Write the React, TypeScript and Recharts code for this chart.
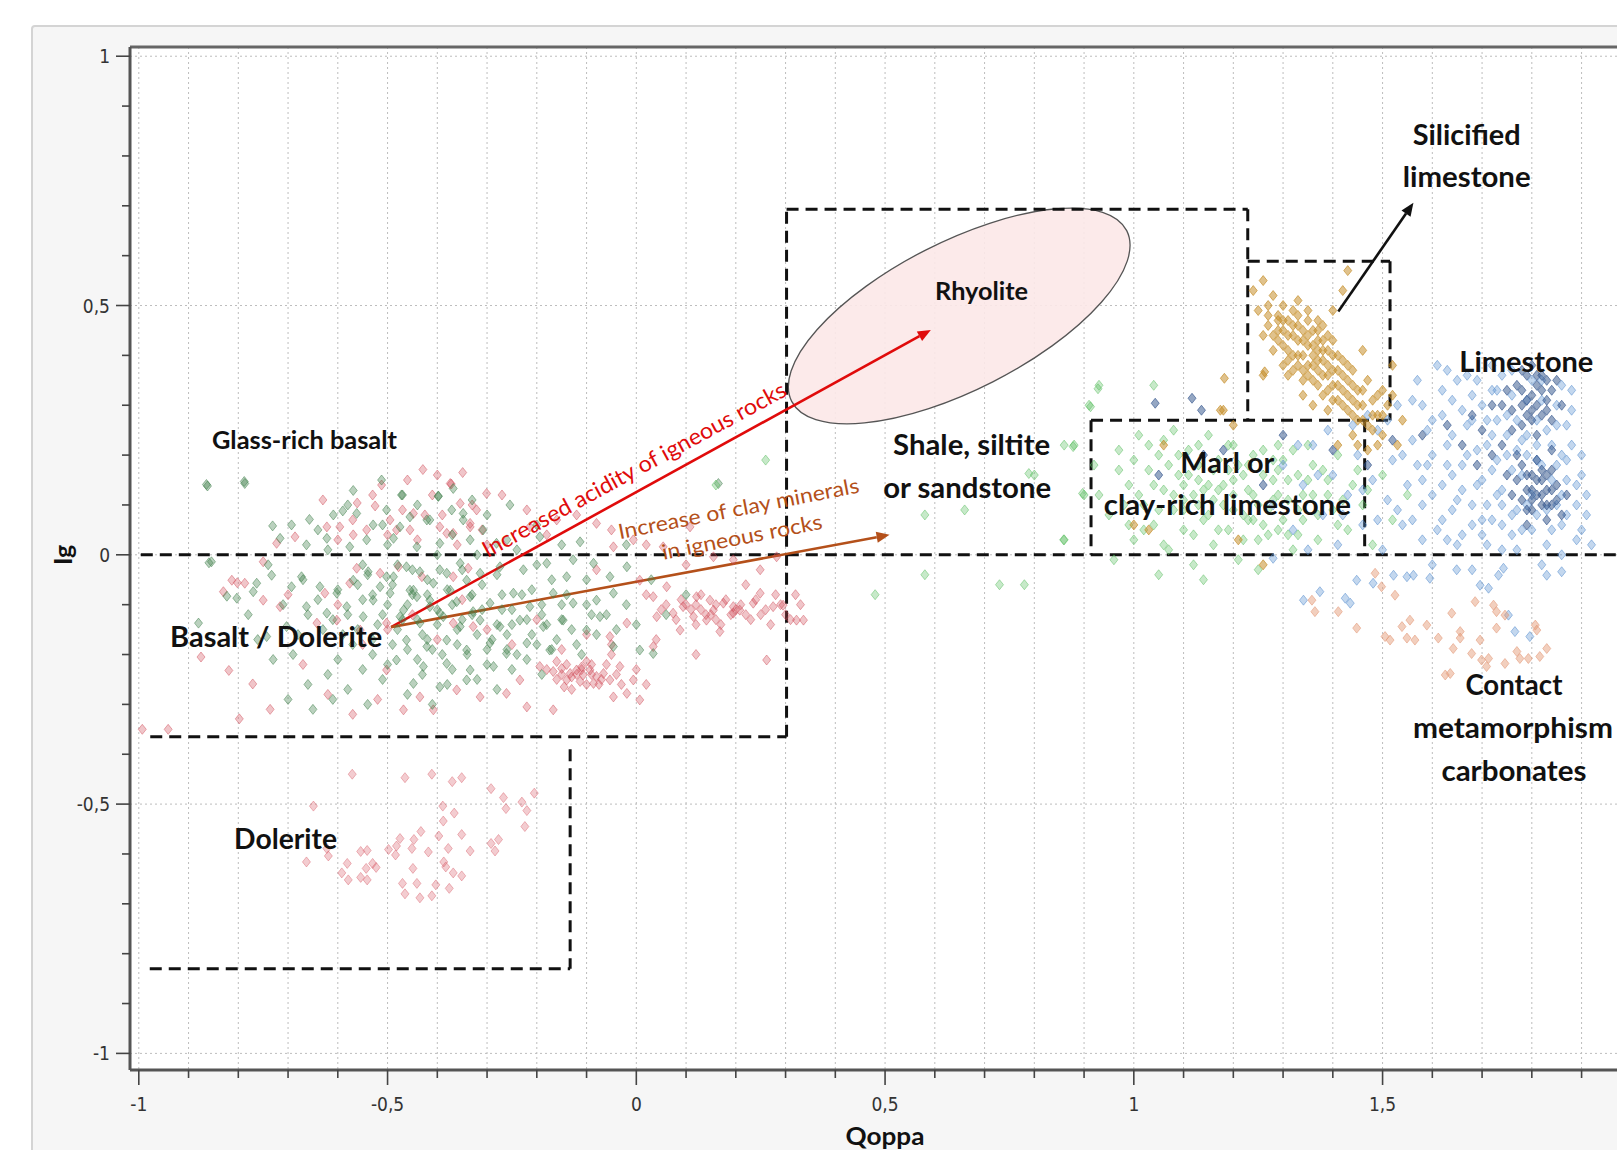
import React from 'react'
import {
  ScatterChart,
  Scatter,
  XAxis,
  YAxis,
  CartesianGrid,
  ReferenceLine,
  ReferenceDot,
  ReferenceArea,
} from 'recharts'

type Pt = [number, number]

// axis ticks (every 0.1, labelled every 0.5)
const xTicks = [-1, -0.9, -0.8, -0.7, -0.6, -0.5, -0.4, -0.3, -0.2, -0.1, 0, 0.1, 0.2, 0.3, 0.4, 0.5, 0.6, 0.7, 0.8, 0.9, 1, 1.1, 1.2, 1.3, 1.4, 1.5, 1.6, 1.7, 1.8, 1.9]
const yTicks = [-1, -0.9, -0.8, -0.7, -0.6, -0.5, -0.4, -0.3, -0.2, -0.1, 0, 0.1, 0.2, 0.3, 0.4, 0.5, 0.6, 0.7, 0.8, 0.9, 1]
const yGridValues = [-1, -0.5, 0, 0.5, 1]

// samples, [Qoppa, Ig]
const basaltGreen: Pt[] = [
  [-0.862, 0.138], [-0.787, 0.143], [-0.859, -0.016], [-0.731, 0.058], [-0.693, 0.06], [-0.657, 0.071], [-0.569, 0.129],
  [-0.512, 0.15], [-0.47, 0.12], [-0.398, 0.118], [-0.368, 0.133], [-0.609, 0.08], [-0.59, 0.088], [-0.562, 0.083],
  [-0.529, 0.06], [-0.502, 0.09], [-0.455, 0.076], [-0.415, 0.07], [-0.348, 0.07], [-0.716, 0.033], [-0.663, 0.02],
  [-0.622, 0.033], [-0.576, 0.016], [-0.542, 0.03], [-0.488, 0.033], [-0.441, 0.016], [-0.395, 0.023], [-0.334, 0.03],
  [-0.763, -0.057], [-0.733, -0.041], [-0.803, -0.087], [-0.77, -0.074], [-0.693, -0.064], [-0.673, -0.044], [-0.636, -0.064],
  [-0.602, -0.077], [-0.569, -0.051], [-0.539, -0.034], [-0.515, -0.064], [-0.488, -0.044], [-0.455, -0.071], [-0.435, -0.034],
  [-0.408, -0.057], [-0.381, -0.037], [-0.341, -0.051], [-0.663, -0.104], [-0.622, -0.117], [-0.582, -0.104], [-0.549, -0.124],
  [-0.529, -0.091], [-0.468, -0.111], [-0.441, -0.084], [-0.415, -0.104], [-0.388, -0.124], [-0.361, -0.094], [-0.328, -0.114],
  [-0.88, -0.137], [-0.743, -0.164], [-0.703, -0.144], [-0.472, 0.12], [-0.398, 0.117], [-0.371, 0.09], [-0.254, 0.1],
  [-0.475, 0.056], [-0.421, 0.07], [-0.348, 0.083], [-0.308, 0.05], [-0.281, 0.023], [-0.194, 0.036], [-0.113, 0.026],
  [0.165, 0.143], [-0.502, -0.044], [-0.462, -0.024], [-0.395, -0.03], [-0.354, -0.017], [-0.314, -0.037], [-0.274, -0.024],
  [-0.227, -0.03], [-0.18, -0.017], [-0.14, -0.044], [-0.086, -0.017], [-0.053, -0.044], [-0.019, -0.024], [-0.495, -0.077],
  [-0.448, -0.071], [-0.415, -0.091], [-0.374, -0.071], [-0.334, -0.084], [-0.294, -0.097], [-0.247, -0.077], [-0.214, -0.104],
  [-0.167, -0.077], [-0.127, -0.097], [-0.08, -0.091], [-0.046, -0.077], [-0.475, -0.124], [-0.435, -0.137], [-0.395, -0.117],
  [-0.354, -0.144], [-0.314, -0.131], [-0.274, -0.144], [-0.234, -0.131], [-0.187, -0.144], [-0.147, -0.131], [-0.1, -0.151],
  [-0.073, -0.124], [-0.462, -0.171], [-0.421, -0.184], [-0.381, -0.171], [-0.341, -0.191], [-0.294, -0.177], [-0.261, -0.198],
  [-0.22, -0.177], [-0.174, -0.191], [0.007, -0.191], [-0.482, -0.211], [-0.428, -0.224], [-0.381, -0.218], [-0.334, -0.231],
  [-0.287, -0.224], [-0.448, -0.258], [-0.395, -0.265], [-0.341, -0.251], [-0.046, -0.184], [0.034, -0.198], [-0.127, -0.01],
  [-0.58, -0.12], [-0.55, -0.09], [-0.52, -0.14], [-0.5, -0.1], [-0.47, -0.13], [-0.45, -0.08], [-0.43, -0.16], [-0.4, -0.11],
  [-0.38, -0.07], [-0.36, -0.15], [-0.33, -0.12], [-0.31, -0.06], [-0.29, -0.17], [-0.27, -0.11], [-0.25, -0.14], [-0.23, -0.08],
  [-0.21, -0.16], [-0.19, -0.12], [-0.17, -0.19], [-0.15, -0.1], [-0.13, -0.15], [-0.11, -0.2], [-0.09, -0.12], [-0.57, -0.18],
  [-0.53, -0.2], [-0.49, -0.18], [-0.44, -0.21], [-0.41, -0.19], [-0.37, -0.23], [-0.34, -0.2], [-0.3, -0.22], [-0.26, -0.19],
  [-0.22, -0.21], [-0.54, -0.04], [-0.48, -0.02], [-0.42, -0.05], [-0.35, -0.03], [-0.28, -0.04], [-0.24, 0.01], [-0.17, -0.05],
  [-0.6, -0.07], [-0.63, -0.15], [-0.66, -0.12], [-0.69, -0.2], [-0.62, -0.24], [-0.58, -0.27], [-0.51, -0.25], [-0.46, -0.28],
  [-0.864, 0.141], [-0.788, 0.147], [-0.854, -0.014], [-0.823, -0.083], [-0.761, -0.17], [-0.7, -0.29], [-0.65, -0.31],
  [-0.64, -0.09], [-0.61, -0.13], [-0.59, -0.16], [-0.56, -0.06], [-0.56, -0.15], [-0.53, -0.08], [-0.53, -0.17], [-0.51, -0.12],
  [-0.49, -0.06], [-0.48, -0.15], [-0.46, -0.1], [-0.46, -0.19], [-0.44, -0.13], [-0.42, -0.08], [-0.42, -0.17], [-0.4, -0.14],
  [-0.39, -0.2], [-0.37, -0.1], [-0.36, -0.18], [-0.35, -0.13], [-0.33, -0.08], [-0.32, -0.16], [-0.31, -0.11], [-0.3, -0.19],
  [-0.28, -0.14], [-0.27, -0.08], [-0.26, -0.16], [-0.25, -0.11], [-0.24, -0.2], [-0.22, -0.13], [-0.21, -0.07], [-0.2, -0.18],
  [-0.19, -0.1], [-0.18, -0.14], [-0.16, -0.17], [-0.15, -0.13], [-0.14, -0.08], [-0.12, -0.18], [-0.1, -0.1], [-0.08, -0.16],
  [-0.06, -0.12], [-0.04, -0.15], [-0.02, -0.1], [0.0, -0.14], [-0.55, -0.02], [-0.5, 0.02], [-0.45, -0.03], [-0.4, 0.0],
  [-0.37, 0.04], [-0.32, 0.0], [-0.26, 0.03], [-0.2, -0.02], [-0.15, 0.02], [-0.1, -0.05], [-0.62, 0.01], [-0.67, -0.05],
  [-0.71, -0.1], [-0.68, -0.16], [-0.6, -0.21], [-0.55, -0.23], [-0.5, -0.22], [-0.43, -0.24], [-0.38, -0.26], [-0.32, -0.25],
  [-0.28, -0.27], [-0.25, -0.23], [-0.19, -0.24], [-0.58, 0.1], [-0.44, 0.1], [-0.33, 0.11], [-0.3, 0.08], [-0.2, 0.06],
  [-0.51, 0.06], [-0.64, 0.05], [-0.74, -0.02], [-0.78, -0.12], [-0.73, -0.21], [-0.66, -0.26], [-0.61, -0.29], [-0.54, -0.3],
  [-0.41, -0.3], [0.03, -0.05], [0.06, -0.12], [0.1, -0.08], [-0.02, 0.02],
]

const basaltRed: Pt[] = [
  [-0.429, 0.171], [-0.349, 0.165], [-0.372, 0.142], [-0.512, 0.14], [-0.561, 0.104], [-0.525, 0.098], [-0.596, 0.056],
  [-0.622, 0.056], [-0.686, 0.036], [-0.723, 0.023], [-0.569, 0.04], [-0.542, 0.05], [-0.482, 0.05], [-0.455, 0.05],
  [-0.425, 0.08], [-0.395, 0.056], [-0.368, 0.043], [-0.334, 0.056], [-0.321, 0.09], [-0.83, -0.074], [-0.787, -0.057],
  [-0.75, -0.091], [-0.716, -0.104], [-0.813, -0.051], [-0.626, -0.077], [-0.576, -0.057], [-0.562, -0.027], [-0.515, -0.037],
  [-0.478, -0.024], [-0.431, -0.044], [-0.368, -0.044], [-0.338, -0.027], [-0.642, -0.137], [-0.602, -0.131], [-0.555, -0.151],
  [-0.502, -0.137], [-0.368, -0.137], [-0.328, -0.144], [-0.374, 0.143], [-0.354, 0.103], [-0.301, 0.123], [-0.495, 0.07],
  [-0.448, 0.083], [-0.381, 0.043], [-0.334, 0.063], [-0.214, 0.056], [-0.16, 0.07], [-0.08, 0.063], [-0.046, 0.016],
  [-0.006, 0.03], [0.054, 0.016], [0.108, 0.056], [0.155, -0.004], [0.195, -0.01], [0.249, -0.03], [0.282, -0.004],
  [0.007, -0.051], [0.034, -0.084], [0.061, -0.064], [0.074, -0.117], [0.094, -0.104], [0.115, -0.124], [0.121, -0.084],
  [0.148, -0.091], [0.155, -0.111], [0.175, -0.097], [0.195, -0.104], [0.208, -0.111], [0.235, -0.097], [0.249, -0.077],
  [0.275, -0.104], [0.295, -0.101], [0.322, -0.131], [0.336, -0.131], [0.088, -0.151], [0.168, -0.154], [0.262, -0.211],
  [0.034, -0.184], [0.041, -0.124], [-0.019, -0.137], [-0.053, -0.164], [0.141, -0.131], [0.195, -0.117], [0.1, -0.1],
  [0.13, -0.11], [0.16, -0.13], [0.22, -0.12], [0.06, -0.1],
  [-0.167, -0.234], [-0.15, -0.228], [-0.133, -0.238], [-0.12, -0.231], [-0.107, -0.241], [-0.093, -0.231], [-0.08, -0.244],
  [-0.066, -0.238], [-0.053, -0.251], [-0.14, -0.251], [-0.113, -0.254], [-0.086, -0.258], [-0.16, -0.214], [-0.1, -0.214],
  [-0.194, -0.224], [-0.033, -0.224], [-0.006, -0.251], [-0.019, -0.278], [0.007, -0.291], [-0.046, -0.285], [-0.234, -0.251],
  [-0.261, -0.278], [-0.314, -0.285], [-0.361, -0.271], [-0.408, -0.311], [-0.468, -0.311], [-0.502, -0.231], [-0.435, -0.285],
  [-0.22, -0.305], [-0.167, -0.311], [-0.13, -0.245], [-0.11, -0.225], [-0.075, -0.26], [-0.145, -0.265],
  [-0.993, -0.35], [-0.941, -0.35], [-0.798, -0.329], [-0.736, -0.31], [-0.819, -0.232], [-0.771, -0.259], [-0.875, -0.205],
  [-0.802, -0.056], [-0.75, -0.014], [-0.27, 0.12], [-0.22, 0.09], [-0.18, 0.04], [-0.12, 0.08], [-0.05, 0.05], [0.02, 0.02],
  [-0.3, 0.02], [-0.08, -0.03], [0.1, -0.02], [0.22, -0.06], [0.3, -0.12], [0.32, -0.08],
  [0.02, -0.08], [0.05, -0.11], [0.08, -0.13], [0.09, -0.09], [0.11, -0.11], [0.12, -0.14], [0.13, -0.08], [0.14, -0.12],
  [0.16, -0.1], [0.17, -0.14], [0.18, -0.09], [0.19, -0.12], [0.21, -0.1], [0.23, -0.13], [0.24, -0.09], [0.26, -0.11],
  [0.27, -0.14], [0.29, -0.1], [0.31, -0.13], [0.33, -0.1], [0.12, -0.1], [0.15, -0.12], [0.2, -0.11], [0.25, -0.12], [0.28, -0.08],
  [-0.18, -0.23], [-0.16, -0.25], [-0.14, -0.22], [-0.12, -0.24], [-0.1, -0.26], [-0.09, -0.22], [-0.07, -0.25], [-0.06, -0.22],
  [-0.04, -0.24], [-0.03, -0.26], [-0.13, -0.27], [-0.09, -0.24], [-0.15, -0.24], [-0.11, -0.23], [-0.05, -0.2], [0.0, -0.23],
  [0.02, -0.26], [-0.63, 0.11], [-0.6, 0.03], [-0.57, 0.07], [-0.53, 0.12], [-0.5, 0.04], [-0.47, 0.09], [-0.44, 0.03],
  [-0.41, 0.12], [-0.39, 0.08], [-0.36, 0.02], [-0.33, 0.1], [-0.31, 0.05], [-0.46, 0.15], [-0.4, 0.16], [-0.6, -0.1],
  [-0.55, -0.18], [-0.5, -0.15], [-0.45, -0.12], [-0.4, -0.17], [-0.35, -0.09], [-0.3, -0.15], [-0.25, -0.18], [-0.2, -0.13],
  [-0.15, -0.19], [-0.1, -0.16], [-0.05, -0.18], [0.04, -0.17], [0.12, -0.2], [-0.7, -0.08], [-0.67, -0.22], [-0.62, -0.28],
  [-0.57, -0.32], [-0.52, -0.29],
]

const doleriteRed: Pt[] = [
  [-0.571, -0.44], [-0.465, -0.447], [-0.411, -0.44], [-0.37, -0.455], [-0.351, -0.447], [-0.649, -0.504], [-0.389, -0.504],
  [-0.366, -0.518], [-0.388, -0.534], [-0.292, -0.469], [-0.267, -0.487], [-0.262, -0.509], [-0.23, -0.496], [-0.22, -0.513],
  [-0.205, -0.478], [-0.224, -0.545], [-0.433, -0.555], [-0.447, -0.571], [-0.475, -0.569], [-0.397, -0.564], [-0.351, -0.561],
  [-0.292, -0.579], [-0.277, -0.571], [-0.284, -0.594], [-0.622, -0.589], [-0.619, -0.604], [-0.663, -0.616], [-0.554, -0.595],
  [-0.541, -0.593], [-0.498, -0.591], [-0.482, -0.584], [-0.484, -0.602], [-0.451, -0.589], [-0.418, -0.596], [-0.378, -0.589],
  [-0.334, -0.594], [-0.581, -0.619], [-0.592, -0.638], [-0.579, -0.652], [-0.554, -0.647], [-0.541, -0.652], [-0.543, -0.629],
  [-0.53, -0.619], [-0.523, -0.627], [-0.449, -0.629], [-0.387, -0.616], [-0.383, -0.626], [-0.368, -0.638], [-0.351, -0.644],
  [-0.47, -0.659], [-0.441, -0.659], [-0.403, -0.662], [-0.376, -0.669], [-0.465, -0.68], [-0.435, -0.688], [-0.411, -0.684],
]

const marlGreen: Pt[] = [
  [0.86, 0.03], [0.88, 0.22], [0.93, 0.34], [1.04, 0.34], [0.9, 0.12], [0.92, 0.18], [0.95, 0.08], [0.97, 0.21], [0.99, 0.14],
  [1.0, 0.03], [1.01, 0.24], [1.02, 0.1], [1.03, 0.17], [1.04, 0.06], [1.05, 0.2], [1.06, 0.13], [1.07, 0.01], [1.08, 0.25],
  [1.08, 0.09], [1.09, 0.16], [1.1, 0.05], [1.11, 0.21], [1.12, 0.12], [1.12, -0.02], [1.13, 0.18], [1.14, 0.07], [1.15, 0.24],
  [1.15, 0.14], [1.16, 0.02], [1.17, 0.19], [1.18, 0.1], [1.19, 0.05], [1.2, 0.22], [1.2, 0.15], [1.21, -0.01], [1.22, 0.08],
  [1.23, 0.18], [1.24, 0.12], [1.25, 0.03], [1.26, 0.21], [1.27, 0.09], [1.28, 0.15], [1.29, 0.05], [1.3, 0.19], [1.31, 0.11],
  [1.32, 0.01], [1.33, 0.16], [1.34, 0.07], [1.35, 0.22], [1.36, 0.12], [1.37, 0.03], [1.38, 0.17], [1.4, 0.09], [1.41, 0.2],
  [1.43, 0.05], [1.44, 0.14], [1.46, 0.1], [1.48, 0.02], [1.5, 0.16], [1.52, 0.07], [1.55, 0.12], [0.96, -0.01], [1.05, -0.04],
  [1.14, -0.05], [1.25, -0.03], [1.13, 0.1], [1.17, 0.13], [1.22, 0.16], [1.28, 0.11], [1.33, 0.09], [1.19, 0.17], [1.24, 0.07],
  [1.1, 0.14], [1.07, 0.18], [1.02, 0.05], [0.98, 0.1], [1.29, 0.22], [1.35, 0.15], [1.39, 0.12], [1.31, 0.04], [0.8, 0.16],
  [0.78, -0.06], [0.73, -0.06], [0.58, -0.04], [0.48, -0.08], [0.66, 0.09], [0.58, 0.08], [0.26, 0.19], [0.16, 0.14], [0.91, 0.3],
  [0.93, 0.12], [0.86, 0.22], [0.928, 0.333], [0.913, 0.297], [0.878, 0.217], [0.789, 0.163], [0.897, 0.123], [0.859, 0.03],
  [0.97, 0.17], [0.99, 0.06], [1.0, 0.19], [1.01, 0.12], [1.03, 0.22], [1.04, 0.14], [1.05, 0.09], [1.06, 0.02], [1.06, 0.23],
  [1.08, 0.12], [1.09, 0.2], [1.1, 0.09], [1.11, 0.16], [1.12, 0.04], [1.13, 0.22], [1.14, 0.13], [1.15, 0.08], [1.16, 0.17],
  [1.17, 0.05], [1.18, 0.14], [1.19, 0.22], [1.2, 0.09], [1.21, 0.18], [1.22, 0.03], [1.23, 0.13], [1.24, 0.2], [1.25, 0.1],
  [1.26, 0.16], [1.27, 0.04], [1.28, 0.19], [1.29, 0.12], [1.3, 0.07], [1.31, 0.15], [1.32, 0.21], [1.33, 0.04], [1.34, 0.12],
  [1.36, 0.18], [1.37, 0.08], [1.39, 0.15], [1.41, 0.06], [1.42, 0.11], [1.45, 0.17], [1.47, 0.13], [1.16, 0.11], [1.2, 0.12],
  [1.1, 0.11], [1.26, 0.06], [1.13, 0.15], [1.23, 0.07], [1.29, 0.17],
]

const silicifiedGold: Pt[] = [
  [1.24, 0.53], [1.25, 0.49], [1.26, 0.55], [1.27, 0.5], [1.27, 0.46], [1.28, 0.52], [1.29, 0.48], [1.29, 0.43], [1.3, 0.5],
  [1.3, 0.45], [1.31, 0.47], [1.31, 0.41], [1.32, 0.49], [1.32, 0.44], [1.33, 0.46], [1.33, 0.4], [1.34, 0.43], [1.34, 0.37],
  [1.35, 0.47], [1.35, 0.42], [1.35, 0.38], [1.36, 0.45], [1.36, 0.4], [1.36, 0.35], [1.37, 0.43], [1.37, 0.39], [1.38, 0.41],
  [1.38, 0.36], [1.38, 0.32], [1.39, 0.44], [1.39, 0.38], [1.4, 0.4], [1.4, 0.34], [1.41, 0.37], [1.41, 0.31], [1.42, 0.39],
  [1.42, 0.33], [1.43, 0.35], [1.43, 0.29], [1.44, 0.37], [1.44, 0.31], [1.45, 0.33], [1.45, 0.27], [1.46, 0.3], [1.47, 0.35],
  [1.47, 0.26], [1.48, 0.31], [1.49, 0.28], [1.5, 0.33], [1.5, 0.24], [1.51, 0.3], [1.43, 0.57], [1.42, 0.53], [1.4, 0.49],
  [1.28, 0.41], [1.3, 0.38], [1.33, 0.51], [1.37, 0.47], [1.46, 0.41], [1.52, 0.38], [1.26, 0.44], [1.31, 0.36], [1.34, 0.32],
  [1.39, 0.29], [1.44, 0.24], [1.47, 0.21], [1.41, 0.22], [1.36, 0.3], [1.32, 0.4], [1.35, 0.44], [1.38, 0.43], [1.33, 0.43],
  [1.37, 0.37], [1.4, 0.43], [1.29, 0.47], [1.54, 0.27], [1.2, 0.26], [1.18, 0.29], [1.26, 0.36], [1.53, 0.22], [1.06, 0.22],
  [1.0, 0.06], [1.03, 0.05], [1.21, 0.03], [1.26, -0.02], [1.174, 0.29], [1.182, 0.354], [1.263, 0.367],
  [1.29, 0.45], [1.3, 0.42], [1.31, 0.44], [1.32, 0.46], [1.32, 0.37], [1.33, 0.48], [1.33, 0.38], [1.34, 0.45], [1.34, 0.4],
  [1.35, 0.36], [1.35, 0.49], [1.36, 0.42], [1.36, 0.38], [1.37, 0.45], [1.37, 0.34], [1.38, 0.39], [1.38, 0.46], [1.39, 0.36],
  [1.39, 0.41], [1.4, 0.37], [1.4, 0.31], [1.41, 0.4], [1.41, 0.34], [1.42, 0.36], [1.42, 0.3], [1.43, 0.32], [1.43, 0.38],
  [1.44, 0.34], [1.45, 0.3], [1.46, 0.33], [1.46, 0.27], [1.48, 0.28], [1.49, 0.32], [1.27, 0.48], [1.28, 0.44], [1.3, 0.47],
  [1.31, 0.39], [1.34, 0.35], [1.37, 0.41], [1.39, 0.33], [1.44, 0.28], [1.48, 0.25], [1.5, 0.28], [1.52, 0.32], [1.49, 0.22],
  [1.45, 0.22],
]

const limestoneBlue: Pt[] = [
  [1.28, 0.1], [1.3, 0.18], [1.32, 0.05], [1.34, 0.14], [1.36, 0.22], [1.38, 0.08], [1.4, 0.16], [1.41, 0.02], [1.43, 0.12],
  [1.45, 0.2], [1.46, 0.06], [1.48, 0.15], [1.49, 0.25], [1.5, 0.01], [1.51, 0.11], [1.52, 0.19], [1.53, 0.3], [1.54, 0.06],
  [1.55, 0.14], [1.56, 0.23], [1.57, 0.35], [1.58, 0.03], [1.58, 0.1], [1.59, 0.18], [1.6, 0.27], [1.61, 0.38], [1.62, 0.07],
  [1.62, 0.14], [1.63, 0.22], [1.64, 0.31], [1.65, 0.02], [1.65, 0.11], [1.66, 0.18], [1.67, 0.26], [1.67, 0.36], [1.68, 0.06],
  [1.69, 0.14], [1.69, 0.21], [1.7, 0.3], [1.71, 0.02], [1.71, 0.1], [1.72, 0.17], [1.72, 0.24], [1.73, 0.33], [1.74, 0.06],
  [1.74, 0.13], [1.75, 0.2], [1.75, 0.28], [1.76, 0.37], [1.77, 0.01], [1.77, 0.09], [1.78, 0.16], [1.78, 0.23], [1.79, 0.31],
  [1.8, 0.05], [1.8, 0.12], [1.81, 0.19], [1.81, 0.27], [1.82, 0.35], [1.83, 0.02], [1.83, 0.09], [1.84, 0.15], [1.84, 0.22],
  [1.85, 0.3], [1.86, 0.06], [1.86, 0.12], [1.87, 0.19], [1.87, 0.26], [1.88, 0.33], [1.89, 0.03], [1.89, 0.1], [1.9, 0.16],
  [1.91, 0.08], [1.92, 0.02], [1.58, 0.3], [1.63, 0.37], [1.68, 0.32], [1.72, 0.38], [1.66, 0.04], [1.7, 0.07], [1.76, 0.04],
  [1.53, 0.09], [1.47, 0.28], [1.44, 0.26], [1.6, 0.2], [1.64, 0.16], [1.73, 0.12], [1.79, 0.2], [1.85, 0.18], [1.62, 0.28],
  [1.71, 0.27], [1.56, 0.07], [1.39, 0.25], [1.35, 0.01], [1.6, -0.02], [1.68, -0.03], [1.82, -0.02],
  [1.341, -0.091], [1.374, -0.074], [1.425, -0.087], [1.435, -0.097], [1.448, -0.051], [1.481, -0.057], [1.522, -0.041],
  [1.549, -0.044], [1.562, -0.041], [1.595, -0.047], [1.649, -0.03], [1.696, -0.061], [1.713, -0.067], [1.733, -0.041],
  [1.743, -0.027], [1.753, -0.121], [1.766, -0.154], [1.796, -0.164], [1.83, -0.041], [1.86, -0.034], [1.28, -0.007],
  [1.56, 0.31], [1.57, 0.18], [1.59, 0.25], [1.6, 0.12], [1.61, 0.05], [1.62, 0.33], [1.63, 0.18], [1.64, 0.09], [1.64, 0.24],
  [1.65, 0.35], [1.66, 0.13], [1.66, 0.29], [1.67, 0.2], [1.68, 0.1], [1.68, 0.27], [1.69, 0.35], [1.7, 0.04], [1.7, 0.15],
  [1.71, 0.22], [1.72, 0.07], [1.72, 0.33], [1.73, 0.19], [1.73, 0.27], [1.74, 0.1], [1.74, 0.36], [1.75, 0.24], [1.76, 0.08],
  [1.76, 0.17], [1.76, 0.32], [1.77, 0.21], [1.77, 0.27], [1.78, 0.05], [1.79, 0.1], [1.79, 0.24], [1.8, 0.35], [1.81, 0.08],
  [1.81, 0.22], [1.82, 0.18], [1.82, 0.31], [1.83, 0.25], [1.84, 0.05], [1.85, 0.1], [1.85, 0.26], [1.86, 0.2], [1.86, 0.34],
  [1.87, 0.08], [1.87, 0.15], [1.88, 0.22], [1.88, 0.29], [1.89, 0.14], [1.9, 0.2], [1.9, 0.05], [1.91, 0.12], [1.58, 0.15],
  [1.54, 0.2], [1.51, 0.27], [1.49, 0.07], [1.46, 0.13], [1.42, 0.08], [1.37, 0.16], [1.33, 0.22], [1.63, 0.03], [1.74, 0.01],
  [1.86, 0.0],
]

const limestoneNavy: Pt[] = [
  [1.77, 0.34], [1.78, 0.3], [1.79, 0.36], [1.79, 0.28], [1.8, 0.32], [1.8, 0.38], [1.81, 0.3], [1.81, 0.34], [1.82, 0.28],
  [1.82, 0.36], [1.83, 0.31], [1.84, 0.33], [1.84, 0.27], [1.85, 0.35], [1.78, 0.26], [1.75, 0.33], [1.76, 0.29], [1.86, 0.3],
  [1.77, 0.15], [1.78, 0.11], [1.78, 0.18], [1.79, 0.13], [1.8, 0.09], [1.8, 0.16], [1.81, 0.12], [1.81, 0.19], [1.82, 0.1],
  [1.82, 0.15], [1.83, 0.07], [1.83, 0.13], [1.84, 0.17], [1.84, 0.1], [1.85, 0.14], [1.86, 0.08], [1.76, 0.12], [1.75, 0.16],
  [1.79, 0.06], [1.87, 0.12], [1.74, 0.22], [1.72, 0.3], [1.7, 0.25], [1.69, 0.18], [1.66, 0.22], [1.63, 0.26], [1.58, 0.24],
  [1.52, 0.23], [1.47, 0.18], [1.4, 0.21], [1.3, 0.24], [1.18, 0.21], [1.14, 0.2], [1.05, 0.16], [1.26, 0.14], [1.043, 0.304],
  [1.117, 0.314], [1.136, 0.29], [1.78, 0.33], [1.79, 0.31], [1.8, 0.29], [1.81, 0.36], [1.82, 0.33], [1.83, 0.29], [1.83, 0.35],
  [1.8, 0.27], [1.78, 0.37], [1.79, 0.16], [1.8, 0.13], [1.81, 0.15], [1.82, 0.12], [1.82, 0.17], [1.83, 0.1], [1.83, 0.16],
  [1.84, 0.13], [1.8, 0.11], [1.79, 0.09], [1.85, 0.11], [1.77, 0.2], [1.81, 0.24], [1.84, 0.21], [1.76, 0.25], [1.72, 0.2],
  [1.68, 0.28], [1.74, 0.3],
]

const contactPeach: Pt[] = [
  [1.358, -0.091], [1.364, -0.114], [1.411, -0.114], [1.448, -0.147], [1.485, -0.037], [1.498, -0.064], [1.525, -0.081],
  [1.505, -0.164], [1.515, -0.171], [1.539, -0.144], [1.555, -0.131], [1.549, -0.167], [1.565, -0.171], [1.589, -0.141],
  [1.612, -0.167], [1.639, -0.117], [1.642, -0.188], [1.656, -0.154], [1.656, -0.167], [1.679, -0.198], [1.686, -0.094],
  [1.696, -0.171], [1.699, -0.211], [1.713, -0.208], [1.709, -0.224], [1.729, -0.147], [1.729, -0.114], [1.723, -0.101],
  [1.746, -0.121], [1.746, -0.218], [1.77, -0.194], [1.776, -0.208], [1.793, -0.208], [1.807, -0.141], [1.81, -0.151],
  [1.816, -0.204], [1.83, -0.188], [1.626, -0.241], [1.636, -0.238],
]

// dashed domain boundaries
const boundaries: [Pt, Pt][] = [
  [[-0.996, 0], [1.98, 0]],
  [[-0.977, -0.365], [0.302, -0.365]],
  [[0.302, -0.365], [0.302, 0.693]],
  [[0.302, 0.693], [1.229, 0.693]],
  [[1.229, 0.693], [1.229, 0.27]],
  [[1.229, 0.589], [1.515, 0.589]],
  [[1.515, 0.589], [1.515, 0.27]],
  [[0.914, 0.27], [1.515, 0.27]],
  [[0.914, 0.27], [0.914, 0]],
  [[1.464, 0.27], [1.464, 0]],
  [[-0.978, -0.83], [-0.133, -0.83]],
  [[-0.133, -0.39], [-0.133, -0.83]],
]

const arrows = [
  { from: [-0.493, -0.145] as Pt, to: [0.592, 0.451] as Pt, color: '#e00b0b' },
  { from: [-0.493, -0.145] as Pt, to: [0.509, 0.04] as Pt, color: '#b4501a' },
  { from: [1.411, 0.488] as Pt, to: [1.562, 0.706] as Pt, color: '#111' },
]

const regionLabels = [
  { text: 'Silicified', x: 1.669, y: 0.844, size: 28, w: 108 },
  { text: 'limestone', x: 1.669, y: 0.759, size: 28, w: 128 },
  { text: 'Rhyolite', x: 0.694, y: 0.53, size: 24.5, w: 93 },
  { text: 'Limestone', x: 1.789, y: 0.389, size: 28, w: 134 },
  { text: 'Glass-rich basalt', x: -0.667, y: 0.232, size: 24.5, w: 185 },
  { text: 'Shale, siltite', x: 0.674, y: 0.223, size: 28, w: 157 },
  { text: 'or sandstone', x: 0.665, y: 0.137, size: 28, w: 168 },
  { text: 'Marl or', x: 1.188, y: 0.186, size: 28, w: 94 },
  { text: 'clay-rich limestone', x: 1.188, y: 0.101, size: 28, w: 247 },
  { text: 'Basalt / Dolerite', x: -0.724, y: -0.162, size: 28, w: 212 },
  { text: 'Contact', x: 1.764, y: -0.259, size: 28, w: 97 },
  { text: 'metamorphism', x: 1.762, y: -0.346, size: 28, w: 200 },
  { text: 'carbonates', x: 1.764, y: -0.432, size: 28, w: 145 },
  { text: 'Dolerite', x: -0.705, y: -0.567, size: 28, w: 103 },
]

const trendLabels = [
  { text: 'Increased acidity of igneous rocks', x: -0.005, y: 0.172, angle: -28.5, size: 22.5, w: 342, color: '#e00b0b' },
  { text: 'Increase of clay minerals', x: 0.205, y: 0.095, angle: -11, size: 21, w: 245, color: '#b4501a' },
  { text: 'in igneous rocks', x: 0.212, y: 0.038, angle: -11, size: 21, w: 163, color: '#b4501a' },
]

// rhyolite field (centre in data units)
const rhyoliteCentre: Pt = [0.649, 0.479]

const X_DOMAIN: [number, number] = [-1.0177, 1.9712]
const Y_DOMAIN: [number, number] = [-1.0333, 1.0185]
const TICK_FONT = '"DejaVu Sans Condensed", "Liberation Sans Narrow", sans-serif'
const LABEL_FONT = 'Lato, "Open Sans", sans-serif'

const toRows = (pts: Pt[]) => pts.map(([x, y]) => ({ x, y }))
const isMajor = (v: number) => Math.abs(v * 2 - Math.round(v * 2)) < 1e-6
const fmt = (v: number) => String(Math.abs(v) < 1e-9 ? 0 : v).replace('.', ',')

const series = [
  { key: 'basaltRed', data: basaltRed, color: '#cf4a57', fill: 0.32, stroke: 0.46 },
  { key: 'basaltGreen', data: basaltGreen, color: '#3f7f4c', fill: 0.36, stroke: 0.5 },
  { key: 'doleriteRed', data: doleriteRed, color: '#d9606c', fill: 0.32, stroke: 0.44 },
  { key: 'marlGreen', data: marlGreen, color: '#5cbf62', fill: 0.34, stroke: 0.5 },
  { key: 'limestoneBlue', data: limestoneBlue, color: '#5a8fd0', fill: 0.36, stroke: 0.55 },
  { key: 'limestoneNavy', data: limestoneNavy, color: '#2b4f88', fill: 0.5, stroke: 0.6 },
  { key: 'silicifiedGold', data: silicifiedGold, color: '#c38a22', fill: 0.52, stroke: 0.65 },
  { key: 'contactPeach', data: contactPeach, color: '#e39a78', fill: 0.48, stroke: 0.58 },
]

const diamond = (color: string, fo: number, so: number) => (p: any) => {
  const { cx, cy } = p
  if (cx == null || cy == null) return <g />
  return (
    <path
      d={`M${cx},${cy - 5}L${cx + 4},${cy}L${cx},${cy + 5}L${cx - 4},${cy}Z`}
      fill={color}
      fillOpacity={fo}
      stroke={color}
      strokeOpacity={so}
      strokeWidth={1}
    />
  )
}

const XTick = (props: any) => {
  const { x, y, payload } = props
  const v = payload.value
  const major = isMajor(v)
  return (
    <g>
      <line x1={x} x2={x} y1={y} y2={y + (major ? 15 : 8)} stroke="#444" strokeWidth={1.6} />
      {major && (
        <text x={x} y={y + 34} textAnchor="middle" dominantBaseline="central" fontSize={19} fontFamily={TICK_FONT} fill="#333">
          {fmt(v)}
        </text>
      )}
    </g>
  )
}

const YTick = (props: any) => {
  const { x, y, payload } = props
  const v = payload.value
  const major = isMajor(v)
  return (
    <g>
      <line x1={x - (major ? 14 : 8)} x2={x} y1={y} y2={y} stroke="#444" strokeWidth={1.6} />
      {major && (
        <text x={x - 20} y={y} textAnchor="end" dominantBaseline="central" fontSize={19} fontFamily={TICK_FONT} fill="#333">
          {fmt(v)}
        </text>
      )}
    </g>
  )
}

const ArrowShape = (color: string) => (p: any) => {
  const { x1, y1, x2, y2 } = p
  if (x1 == null) return <g />
  const a = Math.atan2(y2 - y1, x2 - x1)
  const len = 13
  const hw = 5.5
  const bx = x2 - len * Math.cos(a)
  const by = y2 - len * Math.sin(a)
  const nx = -Math.sin(a) * hw
  const ny = Math.cos(a) * hw
  return (
    <g>
      <line x1={x1} y1={y1} x2={bx} y2={by} stroke={color} strokeWidth={2.6} />
      <polygon points={`${x2},${y2} ${bx + nx},${by + ny} ${bx - nx},${by - ny}`} fill={color} />
    </g>
  )
}

const EllipseShape = (p: any) => {
  const { x, y, width, height } = p
  if (x == null) return <g />
  const cx = x + width / 2
  const cy = y + height / 2
  return (
    <ellipse
      cx={cx}
      cy={cy}
      rx={188}
      ry={74}
      transform={`rotate(-27 ${cx} ${cy})`}
      fill="#fce8e8"
      fillOpacity={0.9}
      stroke="#555"
      strokeWidth={1.3}
    />
  )
}

export default function App() {
  return (
    <div style={{ position: 'absolute', left: 0, top: 0, width: 1617, height: 1150, background: '#fff', overflow: 'hidden' }}>
      <div
        style={{
          position: 'absolute',
          left: 31,
          top: 25,
          width: 1620,
          height: 1140,
          background: '#f6f6f6',
          border: '2px solid #d4d4d4',
          borderRadius: 4,
        }}
      />
      <div style={{ position: 'absolute', left: 0, top: 0 }}>
        <ScatterChart width={1617} height={1150} margin={{ top: 47, right: 0, bottom: 0, left: 0 }}>
          <CartesianGrid
            fill="#ffffff"
            stroke="#bdbdbd"
            strokeDasharray="2 3"
            verticalValues={xTicks}
            horizontalValues={yGridValues}
          />
          <XAxis
            type="number"
            dataKey="x"
            domain={X_DOMAIN}
            allowDataOverflow
            ticks={xTicks}
            interval={0}
            height={80}
            tickSize={0}
            tickMargin={0}
            tickLine={false}
            axisLine={{ stroke: '#555', strokeWidth: 3 }}
            tick={<XTick />}
            label={{
              content: () => (
                <text x={885} y={1135} textAnchor="middle" dominantBaseline="central" fontSize={25} fontWeight={700} fontFamily={LABEL_FONT} fill="#111" textLength={79} lengthAdjust="spacingAndGlyphs">
                  Qoppa
                </text>
              ),
            }}
          />
          <YAxis
            type="number"
            dataKey="y"
            domain={Y_DOMAIN}
            allowDataOverflow
            ticks={yTicks}
            interval={0}
            width={130}
            tickSize={0}
            tickMargin={0}
            tickLine={false}
            axisLine={{ stroke: '#555', strokeWidth: 3 }}
            tick={<YTick />}
            label={{
              content: () => (
                <text x={62} y={555} textAnchor="middle" dominantBaseline="central" fontSize={25} fontWeight={700} fontFamily={LABEL_FONT} fill="#111" transform="rotate(-90 62 555)">
                  Ig
                </text>
              ),
            }}
          />
          <ReferenceLine y={Y_DOMAIN[1]} stroke="#666" strokeWidth={3} />

          <ReferenceArea
            x1={rhyoliteCentre[0] - 0.01}
            x2={rhyoliteCentre[0] + 0.01}
            y1={rhyoliteCentre[1] - 0.01}
            y2={rhyoliteCentre[1] + 0.01}
            ifOverflow="visible"
            shape={EllipseShape}
          />

          {series.map((s) => (
            <Scatter
              key={s.key}
              name={s.key}
              data={toRows(s.data)}
              isAnimationActive={false}
              shape={diamond(s.color, s.fill, s.stroke)}
            />
          ))}

          {boundaries.map(([a, b], i) => (
            <ReferenceLine
              key={`b${i}`}
              segment={[{ x: a[0], y: a[1] }, { x: b[0], y: b[1] }]}
              stroke="#111"
              strokeWidth={3}
              strokeDasharray="12 7"
              ifOverflow="visible"
            />
          ))}

          {arrows.map((ar, i) => (
            <ReferenceLine
              key={`a${i}`}
              segment={[{ x: ar.from[0], y: ar.from[1] }, { x: ar.to[0], y: ar.to[1] }]}
              stroke={ar.color}
              ifOverflow="visible"
              shape={ArrowShape(ar.color)}
            />
          ))}

          {regionLabels.map((l) => (
            <ReferenceDot
              key={l.text}
              x={l.x}
              y={l.y}
              r={1}
              ifOverflow="visible"
              shape={(p: any) => (
                <text
                  x={p.cx}
                  y={p.cy}
                  textAnchor="middle"
                  dominantBaseline="central"
                  fontSize={l.size}
                  fontWeight={700}
                  fontFamily={LABEL_FONT}
                  fill="#111"
                  textLength={l.w}
                  lengthAdjust="spacingAndGlyphs"
                >
                  {l.text}
                </text>
              )}
            />
          ))}

          {trendLabels.map((l) => (
            <ReferenceDot
              key={l.text}
              x={l.x}
              y={l.y}
              r={1}
              ifOverflow="visible"
              shape={(p: any) => (
                <text
                  x={p.cx}
                  y={p.cy}
                  textAnchor="middle"
                  dominantBaseline="central"
                  fontSize={l.size}
                  fontFamily={LABEL_FONT}
                  fill={l.color}
                  textLength={l.w}
                  lengthAdjust="spacingAndGlyphs"
                  transform={`rotate(${l.angle} ${p.cx} ${p.cy})`}
                >
                  {l.text}
                </text>
              )}
            />
          ))}
        </ScatterChart>
      </div>
    </div>
  )
}
